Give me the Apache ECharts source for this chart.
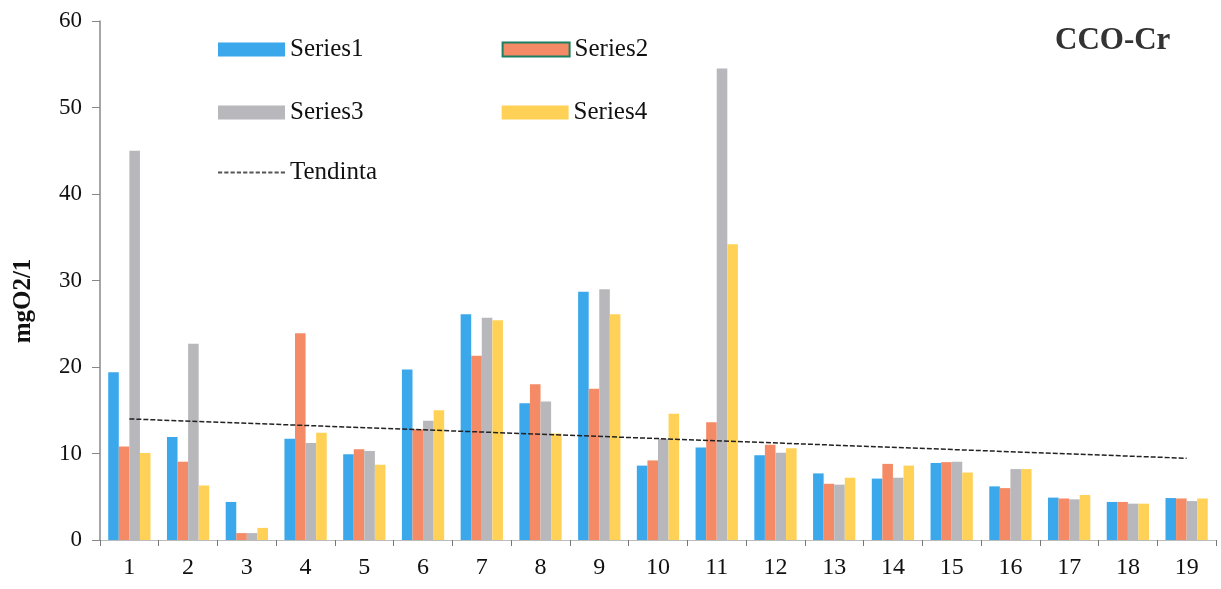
<!DOCTYPE html>
<html>
<head>
<meta charset="utf-8">
<script src="https://cdn.jsdelivr.net/npm/echarts@6/dist/echarts.min.js"></script>
<style>
html,body{margin:0;padding:0;background:#fff;}
#chart{width:1221px;height:589px;}
</style>
</head>
<body>
<div id="chart"></div>
<script>
const categories = ['1','2','3','4','5','6','7','8','9','10','11','12','13','14','15','16','17','18','19'];
const series1 = [19.4, 11.9, 4.4, 11.7, 9.9, 19.7, 26.1, 15.8, 28.7, 8.6, 10.7, 9.8, 7.7, 7.1, 8.9, 6.2, 4.9, 4.4, 4.85];
const series2 = [10.8, 9.05, 0.8, 23.9, 10.5, 12.8, 21.3, 18.0, 17.5, 9.2, 13.6, 11.0, 6.5, 8.8, 9.0, 6.0, 4.8, 4.4, 4.8];
const series3 = [45.0, 22.7, 0.8, 11.2, 10.3, 13.8, 25.7, 16.0, 29.0, 11.7, 54.5, 10.1, 6.4, 7.2, 9.05, 8.2, 4.7, 4.2, 4.5];
const series4 = [10.05, 6.3, 1.4, 12.4, 8.7, 15.0, 25.4, 12.3, 26.1, 14.6, 34.2, 10.6, 7.2, 8.6, 7.8, 8.2, 5.2, 4.2, 4.8];
const trend = [14.0, null, null, null, null, null, null, null, null, null, null, null, null, null, null, null, null, null, 9.45];
const yTicks = { min: 0, max: 60, interval: 10 };

const FONT = '"Liberation Serif", "DejaVu Serif", serif';
const colors = { s1: '#3BA8EC', s2: '#F58B66', s3: '#B8B8BC', s4: '#FFD257' };

// dashed legend icon (style only)
let dashPath = 'path://';
for (let i = 0; i < 11; i++) { dashPath += 'M' + (i * 6) + ',0h4v2h-4z '; }

const chart = echarts.init(document.getElementById('chart'));
const legendText = { fontFamily: FONT, fontSize: 25, color: '#111' };
const legendCommon = {
  orient: 'horizontal', left: 213, itemWidth: 67, itemHeight: 14, itemGap: 138,
  textStyle: legendText, selectedMode: false
};
chart.setOption({
  animation: false,
  backgroundColor: '#fff',
  title: {
    text: 'CCO-Cr', left: 1050, top: 20,
    textStyle: { fontFamily: FONT, fontSize: 31, fontWeight: 'bold', color: '#333' }
  },
  legend: [
    Object.assign({}, legendCommon, { top: 32, data: [
      { name: 'Series1', icon: 'rect' },
      { name: 'Series2', icon: 'rect', itemStyle: { borderColor: '#1B7F62', borderWidth: 2 } }
    ]}),
    Object.assign({}, legendCommon, { top: 95, data: [
      { name: 'Series3', icon: 'rect' },
      { name: 'Series4', icon: 'rect' }
    ]}),
    Object.assign({}, legendCommon, { top: 155, itemHeight: 3, data: [
      { name: 'Tendinta', icon: dashPath, itemStyle: { color: '#555', borderWidth: 0 } }
    ]})
  ],
  grid: { left: 100, right: 5, top: 21, bottom: 49, containLabel: false },
  xAxis: {
    type: 'category', data: categories,
    axisLine: { show: true, lineStyle: { color: '#bbb', width: 1 } },
    axisTick: { show: true, length: 6, lineStyle: { color: '#777' } },
    axisLabel: { fontFamily: FONT, fontSize: 24, color: '#111', margin: 16 }
  },
  yAxis: {
    type: 'value', min: yTicks.min, max: yTicks.max, interval: yTicks.interval,
    axisLine: { show: true, lineStyle: { color: '#888', width: 1.5 } },
    axisTick: { show: true, length: 8, lineStyle: { color: '#888' } },
    splitLine: { show: false },
    axisLabel: { fontFamily: FONT, fontSize: 23, color: '#111', margin: 18 }
  },
  graphic: [{
    type: 'text', x: 24, y: 301, rotation: Math.PI / 2,
    style: { text: 'mgO2/1', font: 'bold 25px ' + FONT, fill: '#111', textAlign: 'center', textVerticalAlign: 'middle' }
  }],
  series: [
    { name: 'Series1', type: 'bar', data: series1, barGap: '0%', barCategoryGap: '28%', itemStyle: { color: colors.s1 } },
    { name: 'Series2', type: 'bar', data: series2, itemStyle: { color: colors.s2 } },
    { name: 'Series3', type: 'bar', data: series3, itemStyle: { color: colors.s3 } },
    { name: 'Series4', type: 'bar', data: series4, itemStyle: { color: colors.s4 } },
    { name: 'Tendinta', type: 'line', data: trend, connectNulls: true, symbol: 'none', z: 5,
      lineStyle: { color: '#222', width: 1.5, type: [5, 2] }, itemStyle: { color: '#555' } }
  ]
});
</script>
</body>
</html>
